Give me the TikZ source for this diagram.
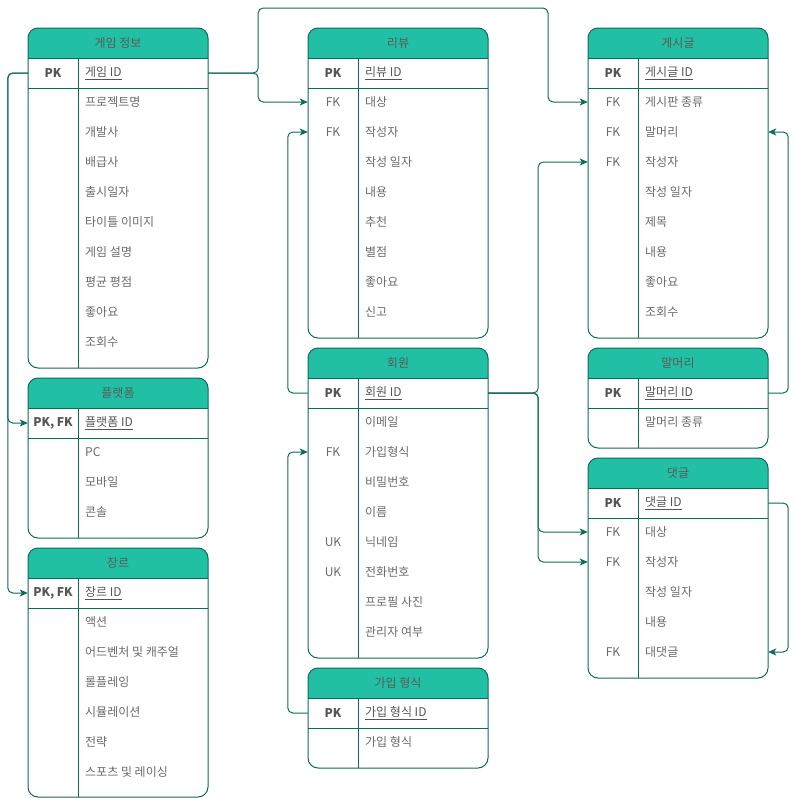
\documentclass[tikz,border=0pt]{standalone}
\usepackage{fontspec}
\setmainfont{Noto Sans CJK KR}
\usetikzlibrary{arrows.meta}
\definecolor{hdr}{HTML}{21C0A5}
\definecolor{edgec}{HTML}{0E6B58}
\definecolor{txt}{HTML}{6A6A6A}
\definecolor{pktxt}{HTML}{555555}
\definecolor{ttl}{HTML}{5A5A5A}
\tikzset{
  tline/.style={draw=edgec, line width=1pt},
  titlefont/.style={font=\fontsize{12}{14}\selectfont, text=ttl, inner sep=0pt},
  keyfont/.style={font=\fontsize{12}{14}\selectfont, text=txt, inner sep=0pt},
  pkkeyfont/.style={font=\bfseries\fontsize{12}{14}\selectfont, text=pktxt, inner sep=0pt},
  fieldfont/.style={font=\fontsize{12}{14}\selectfont, text=txt, inner sep=0pt, anchor=west},
  pkfieldfont/.style={font=\fontsize{12}{14}\selectfont, text=pktxt, inner sep=0pt, anchor=west},
  rowbox/.style={minimum width=180pt, minimum height=30pt, inner sep=0pt, draw=none},
  conn/.style={draw=edgec, line width=1pt, rounded corners=5pt, -{Stealth[length=8pt,width=7pt,inset=2pt]}}
}
\newcommand\erframe[5]{%
  \fill[hdr] ({#2},{#3+30}) [rounded corners=10pt] -- ({#2},{#3}) -- ({#2+180},{#3}) [sharp corners] -- ({#2+180},{#3+30}) -- cycle;
  \draw[tline, rounded corners=10pt] ({#2},{#3}) rectangle ({#2+180},{#3+#4});
  \draw[tline] ({#2},{#3+30}) -- ({#2+180},{#3+30}) ({#2},{#3+60}) -- ({#2+180},{#3+60}) ({#2+50},{#3+30}) -- ({#2+50},{#3+#4});
  \node[titlefont] (#1) at ({#2+90},{#3+15}) {#5};
}
\newcommand\errow[5]{%
  \node[rowbox] (#1) at ({#2+90},{#3}) {};
  \node[keyfont] (#1-k) at ({#2+25},{#3}) {#4};
  \node[fieldfont] (#1-f) at ({#2+57},{#3}) {#5};
}
\newcommand\erpkrow[5]{%
  \node[rowbox] (#1) at ({#2+90},{#3}) {};
  \node[pkkeyfont] (#1-k) at ({#2+25},{#3}) {#4};
  \node[pkfieldfont] (#1-f) at ({#2+57},{#3}) {\underline{#5}};
}
\begin{document}
\begin{tikzpicture}[x=1pt, y=-1pt]
\useasboundingbox (0,0) rectangle (796,798);
% ---- left column
\erframe{game}{28}{28}{340}{게임 정보}
\erpkrow{game-pk}{28}{73}{PK}{게임 ID}
\errow{game-1}{28}{102}{}{프로젝트명}
\errow{game-2}{28}{132}{}{개발사}
\errow{game-3}{28}{162}{}{배급사}
\errow{game-4}{28}{192}{}{출시일자}
\errow{game-5}{28}{222}{}{타이틀 이미지}
\errow{game-6}{28}{252}{}{게임 설명}
\errow{game-7}{28}{282}{}{평균 평점}
\errow{game-8}{28}{312}{}{좋아요}
\errow{game-9}{28}{342}{}{조회수}

\erframe{plat}{28}{378}{160}{플랫폼}
\erpkrow{plat-pk}{28}{423}{PK, FK}{플랫폼 ID}
\errow{plat-1}{28}{452}{}{PC}
\errow{plat-2}{28}{482}{}{모바일}
\errow{plat-3}{28}{512}{}{콘솔}

\erframe{genre}{28}{548}{249}{장르}
\erpkrow{genre-pk}{28}{593}{PK, FK}{장르 ID}
\errow{genre-1}{28}{622}{}{액션}
\errow{genre-2}{28}{652}{}{어드벤처 및 캐주얼}
\errow{genre-3}{28}{682}{}{롤플레잉}
\errow{genre-4}{28}{712}{}{시뮬레이션}
\errow{genre-5}{28}{742}{}{전략}
\errow{genre-6}{28}{772}{}{스포츠 및 레이싱}

% ---- middle column
\erframe{review}{308}{28}{310}{리뷰}
\erpkrow{review-pk}{308}{73}{PK}{리뷰 ID}
\errow{review-tgt}{308}{102}{FK}{대상}
\errow{review-wr}{308}{132}{FK}{작성자}
\errow{review-3}{308}{162}{}{작성 일자}
\errow{review-4}{308}{192}{}{내용}
\errow{review-5}{308}{222}{}{추천}
\errow{review-6}{308}{252}{}{별점}
\errow{review-7}{308}{282}{}{좋아요}
\errow{review-8}{308}{312}{}{신고}

\erframe{member}{308}{348}{310}{회원}
\erpkrow{member-pk}{308}{393}{PK}{회원 ID}
\errow{member-1}{308}{422}{}{이메일}
\errow{member-join}{308}{452}{FK}{가입형식}
\errow{member-3}{308}{482}{}{비밀번호}
\errow{member-4}{308}{512}{}{이름}
\errow{member-5}{308}{542}{UK}{닉네임}
\errow{member-6}{308}{572}{UK}{전화번호}
\errow{member-7}{308}{602}{}{프로필 사진}
\errow{member-8}{308}{632}{}{관리자 여부}

\erframe{join}{308}{668}{100}{가입 형식}
\erpkrow{join-pk}{308}{713}{PK}{가입 형식 ID}
\errow{join-1}{308}{742}{}{가입 형식}

% ---- right column
\erframe{post}{588}{28}{310}{게시글}
\erpkrow{post-pk}{588}{73}{PK}{게시글 ID}
\errow{post-type}{588}{102}{FK}{게시판 종류}
\errow{post-head}{588}{132}{FK}{말머리}
\errow{post-wr}{588}{162}{FK}{작성자}
\errow{post-4}{588}{192}{}{작성 일자}
\errow{post-5}{588}{222}{}{제목}
\errow{post-6}{588}{252}{}{내용}
\errow{post-7}{588}{282}{}{좋아요}
\errow{post-8}{588}{312}{}{조회수}

\erframe{head}{588}{348}{100}{말머리}
\erpkrow{head-pk}{588}{393}{PK}{말머리 ID}
\errow{head-1}{588}{422}{}{말머리 종류}

\erframe{cmt}{588}{458}{220}{댓글}
\erpkrow{cmt-pk}{588}{503}{PK}{댓글 ID}
\errow{cmt-tgt}{588}{532}{FK}{대상}
\errow{cmt-wr}{588}{562}{FK}{작성자}
\errow{cmt-3}{588}{592}{}{작성 일자}
\errow{cmt-4}{588}{622}{}{내용}
\errow{cmt-reply}{588}{652}{FK}{대댓글}

% ---- connectors
\draw[conn] (game-pk.east) -- ++(50,0) |- (review-tgt.west);
\draw[conn] (game-pk.east) -- ++(50,0) |- (548,8) |- (post-type.west);
\draw[conn] (game-pk.west) -- ++(-20,0) |- (plat-pk.west);
\draw[conn] (game-pk.west) -- ++(-20,0) |- (genre-pk.west);
\draw[conn] (member-pk.west) -- ++(-20,0) |- (review-wr.west);
\draw[conn] (join-pk.west) -- ++(-20,0) |- (member-join.west);
\draw[conn] (member-pk.east) -- ++(50,0) |- (post-wr.west);
\draw[conn] (member-pk.east) -- ++(50,0) |- (cmt-tgt.west);
\draw[conn] (member-pk.east) -- ++(50,0) |- (cmt-wr.west);
\draw[conn] (head-pk.east) -- ++(20,0) |- (post-head.east);
\draw[conn] (cmt-pk.east) -- ++(20,0) |- (cmt-reply.east);
\end{tikzpicture}
\end{document}
